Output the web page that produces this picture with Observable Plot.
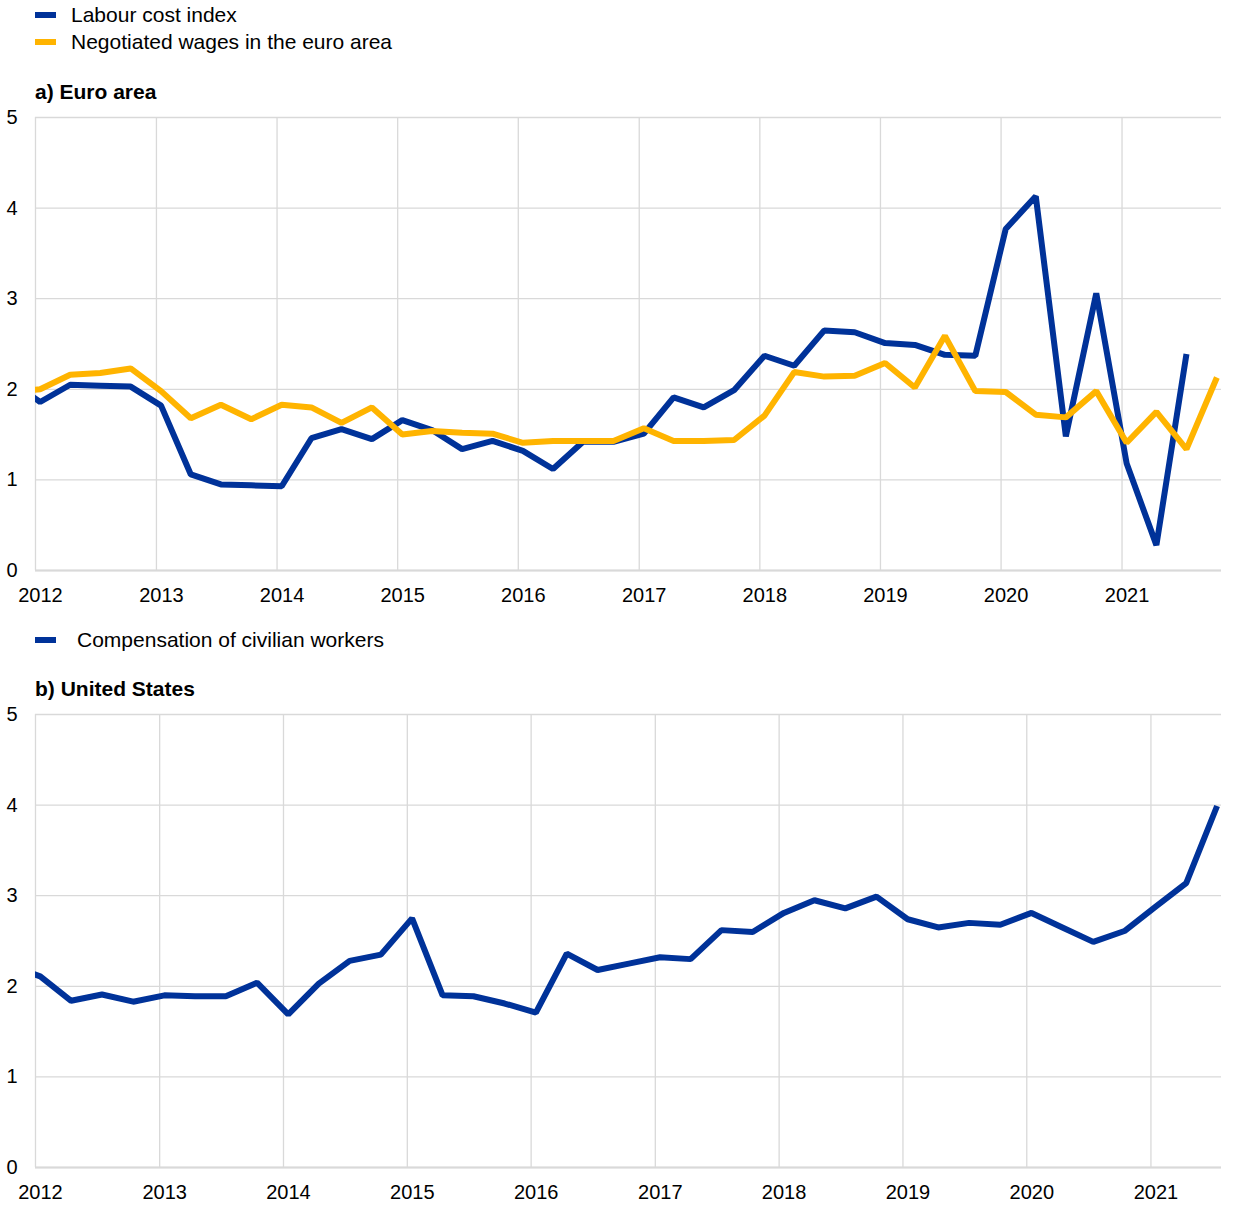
<!DOCTYPE html>
<html>
<head>
<meta charset="utf-8">
<script src="https://cdn.jsdelivr.net/npm/d3@7"></script>
<script src="https://cdn.jsdelivr.net/npm/@observablehq/plot@0.6"></script>
<style>
  html, body { margin: 0; padding: 0; background: #fff; }
  #root { position: relative; width: 1240px; height: 1213px; font-family: "Liberation Sans", Arial, sans-serif; color: #000; overflow: hidden; }
  .row { position: absolute; left: 0; height: 24px; display: flex; align-items: center; font-size: 21px; white-space: nowrap; }
  .sw { width: 21px; height: 6px; margin-left: 35px; }
  .title { position: absolute; left: 35px; height: 24px; line-height: 24px; font-size: 21px; font-weight: bold; white-space: nowrap; }
  .panel { position: absolute; left: 0; }
</style>
</head>
<body>
<div id="root">
  <div class="row" style="top:3px"><div class="sw" style="background:#003299"></div><span style="margin-left:15px">Labour cost index</span></div>
  <div class="row" style="top:30px"><div class="sw" style="background:#ffb400"></div><span style="margin-left:15px">Negotiated wages in the euro area</span></div>
  <div class="title" style="top:80px">a) Euro area</div>
  <div class="panel" id="pa" style="top:105px"></div>
  <div class="row" style="top:628px"><div class="sw" style="background:#003299"></div><span style="margin-left:21px">Compensation of civilian workers</span></div>
  <div class="title" style="top:677px">b) United States</div>
  <div class="panel" id="pb" style="top:702px"></div>
</div>
<script>
// Quarterly data, first observation 2011 Q4 (partly outside the visible range)
const firstQuarter = { year: 2011, month: 9 }; // October 2011
const yearTicks = [2012, 2013, 2014, 2015, 2016, 2017, 2018, 2019, 2020, 2021];
const yTicks = [0, 1, 2, 3, 4, 5];

// a) Euro area
const labourCostIndex = [2.10, 1.86, 2.05, 2.04, 2.03, 1.82, 1.06, 0.95, 0.94, 0.93, 1.46, 1.56, 1.45, 1.66, 1.55, 1.34, 1.43, 1.32, 1.12, 1.42, 1.42, 1.51, 1.91, 1.80, 1.99, 2.37, 2.26, 2.65, 2.63, 2.51, 2.49, 2.38, 2.37, 3.77, 4.13, 1.48, 3.06, 1.18, 0.28, 2.39];
const negotiatedWages = [1.97, 2.00, 2.16, 2.18, 2.23, 1.98, 1.68, 1.83, 1.67, 1.83, 1.80, 1.63, 1.80, 1.50, 1.54, 1.52, 1.51, 1.41, 1.43, 1.43, 1.43, 1.57, 1.43, 1.43, 1.44, 1.71, 2.19, 2.14, 2.15, 2.29, 2.02, 2.59, 1.98, 1.97, 1.72, 1.69, 1.98, 1.41, 1.75, 1.34, 2.13];
// b) United States
const compensationCivilian = [2.23, 2.11, 1.84, 1.91, 1.83, 1.90, 1.89, 1.89, 2.04, 1.69, 2.03, 2.28, 2.35, 2.75, 1.90, 1.89, 1.81, 1.71, 2.36, 2.18, 2.25, 2.32, 2.30, 2.62, 2.60, 2.81, 2.95, 2.86, 2.99, 2.74, 2.65, 2.70, 2.68, 2.81, 2.65, 2.49, 2.61, 2.88, 3.14, 3.99];

const BLUE = "#003299", YELLOW = "#ffb400", GRID = "#d9d9d9";

function quarterDate(i) {
  return new Date(Date.UTC(firstQuarter.year, firstQuarter.month + 3 * i, 15));
}
function toSeries(values) {
  return values.map((v, i) => ({ date: quarterDate(i), value: v }));
}
const yearDates = yearTicks.map(y => new Date(Date.UTC(y, 0, 1)));

function panel(series, xEnd) {
  return Plot.plot({
    width: 1240,
    height: 505,
    marginLeft: 35,
    marginRight: 19,
    marginTop: 12,
    marginBottom: 40,
    style: { fontFamily: "'Liberation Sans', Arial, sans-serif", fontSize: "20px", color: "#000", background: "#fff" },
    x: { type: "utc", domain: [new Date(Date.UTC(2012, 0, 1)), xEnd] },
    y: { domain: [0, 5] },
    marks: [
      Plot.ruleY(yTicks, { stroke: GRID, strokeWidth: 1.3 }),
      Plot.ruleX(yearDates, { stroke: GRID, strokeWidth: 1.3 }),
      Plot.ruleY([0], { stroke: GRID, strokeWidth: 2 }),
      Plot.axisY({ ticks: yTicks, tickFormat: d3.format("d"), tickSize: 0, tickPadding: 18, fontSize: 20, label: null }),
      Plot.axisX({ ticks: yearDates, tickFormat: d3.utcFormat("%Y"), tickSize: 0, tickPadding: 17, dx: 5, fontSize: 20, label: null }),
      ...series.map(s => Plot.line(toSeries(s.values), { x: "date", y: "value", stroke: s.color, strokeWidth: 6, clip: true, strokeLinejoin: "miter", strokeLinecap: "butt" }))
    ]
  });
}

document.getElementById("pa").appendChild(panel([
  { values: labourCostIndex, color: BLUE },
  { values: negotiatedWages, color: YELLOW }
], new Date(Date.UTC(2021, 9, 29))));

document.getElementById("pb").appendChild(panel([
  { values: compensationCivilian, color: BLUE }
], new Date(Date.UTC(2021, 6, 28))));
</script>
</body>
</html>
